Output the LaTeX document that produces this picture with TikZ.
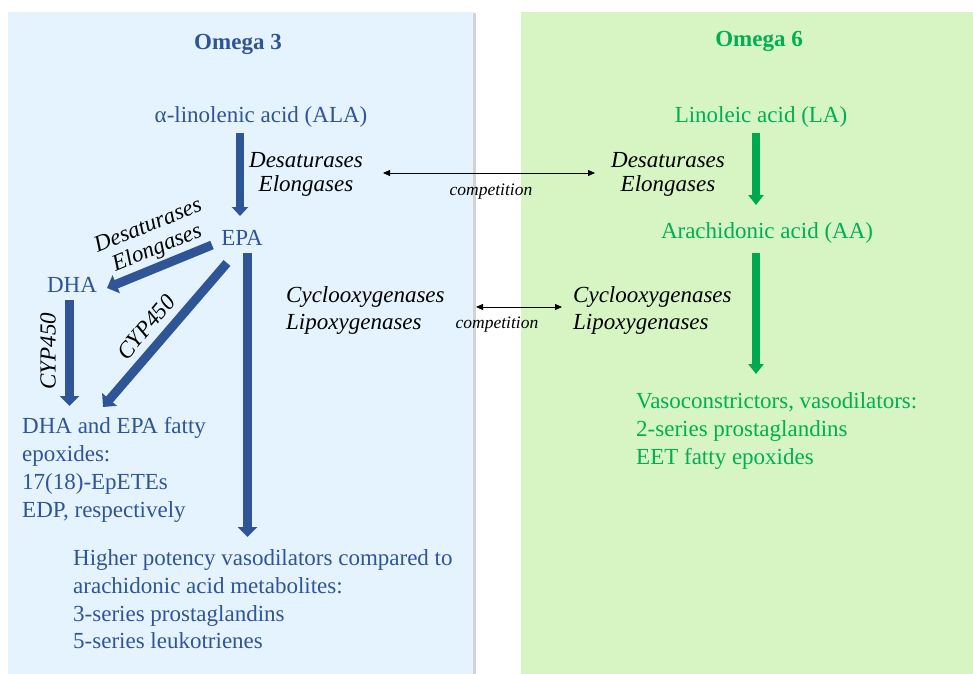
\documentclass[tikz,border=0pt]{standalone}
\usepackage{fontspec}
\setmainfont{Liberation Serif}
\usetikzlibrary{arrows.meta,shadows}
\definecolor{oblue}{HTML}{2F5597}
\definecolor{ogreen}{HTML}{00B050}
\definecolor{agreen}{HTML}{00A94F}
\definecolor{pblue}{HTML}{E4F3FD}
\definecolor{pgreen}{HTML}{D6F5C3}
\begin{document}
\begin{tikzpicture}[x=1pt,y=1pt,
  panel/.style={drop shadow={shadow xshift=3pt,shadow yshift=-1pt,opacity=.35}},
  hd/.style={inner sep=0pt,anchor=base,font=\fontsize{23}{28}\selectfont\bfseries},
  bt/.style={inner sep=0pt,anchor=base,text=oblue,font=\fontsize{23}{28}\selectfont},
  gt/.style={inner sep=0pt,anchor=base,text=ogreen,font=\fontsize{23}{28}\selectfont},
  blk/.style={inner sep=0pt,anchor=north west,align=left,font=\fontsize{23}{27.7}\selectfont},
  en/.style={inner sep=0pt,text=black,font=\fontsize{23}{27}\selectfont\itshape},
  enz/.style={en,align=center,font=\fontsize{23}{24}\selectfont\itshape},
  cmp/.style={inner sep=0pt,anchor=base,font=\fontsize{17.5}{20}\selectfont\itshape},
  barrow/.style={draw=oblue,line width=9pt,-{Triangle[width=19pt,length=10pt]}},
  bthin/.style={draw=oblue,line width=7.5pt,-{Triangle[width=16pt,length=9pt]}},
  garrow/.style={draw=agreen,line width=8pt,-{Triangle[width=15pt,length=10pt]}},
  carrow/.style={draw=black,line width=0.8pt,{Triangle[width=6pt,length=7pt]}-{Triangle[width=6pt,length=7pt]}}
]
\useasboundingbox (0,0) rectangle (973,-673);
% panels
\path[fill=pblue,panel] (8,-12) rectangle (473,-700);
\path[fill=pgreen,panel] (521,-12) rectangle (1000,-700);

% headings
\node[hd,text=oblue] (om3) at (238,-49) {Omega 3};
\node[hd,text=ogreen] (om6) at (759,-46) {Omega 6};

% omega 3 texts
\node[bt] (ala) at (261,-122) {α-linolenic acid (ALA)};
\node[bt] (epa) at (242,-245) {EPA};
\node[bt] (dha) at (72,-292) {DHA};
\node[blk,text=oblue] (epox) at (22,-417.5) {DHA and EPA fatty\\epoxides:\\17(18)-EpETEs\\EDP, respectively};
\node[blk,text=oblue] (vdil) at (73,-549.5) {Higher potency vasodilators compared to\\arachidonic acid metabolites:\\3-series prostaglandins\\5-series leukotrienes};

% omega 6 texts
\node[gt] (la) at (761,-122) {Linoleic acid (LA)};
\node[gt] (aa) at (767,-238) {Arachidonic acid (AA)};
\node[blk,text=ogreen] (vcon) at (636,-392.5) {Vasoconstrictors, vasodilators:\\2-series prostaglandins\\EET fatty epoxides};

% enzyme labels
\node[enz,anchor=north] (desL) at (306,-152) {Desaturases\\Elongases};
\node[enz,anchor=north] (desR) at (668,-152) {Desaturases\\Elongases};
\node[en,align=left,anchor=north west] (coxL) at (286,-286.5) {Cyclooxygenases\\Lipoxygenases};
\node[en,align=left,anchor=north west] (coxR) at (573,-286.5) {Cyclooxygenases\\Lipoxygenases};
\node[enz,rotate=22] (desD) at (153,-238) {Desaturases\\Elongases};
\node[en,rotate=90] (cyp1) at (48,-351) {CYP450};
\node[en,rotate=50] (cyp2) at (146,-327) {CYP450};

% competition
\node[cmp] (comp1) at (491,-195) {competition};
\node[cmp] (comp2) at (497,-328) {competition};
\coordinate (c1a) at (383,-173);
\coordinate (c1b) at (595,-173);
\coordinate (c2a) at (476,-307);
\coordinate (c2b) at (562,-307);
\draw[carrow] (c1a) -- (c1b);
\draw[carrow] (c2a) -- (c2b);

% arrow end points
\coordinate (alaS) at (240,-133);
\coordinate (epaN) at (240,-216);
\coordinate (epaW) at (212,-245);
\coordinate (dhaE) at (107,-288);
\coordinate (epaSW) at (227,-263);
\coordinate (epoxNE) at (103,-407);
\coordinate (dhaS) at (69.5,-300);
\coordinate (epoxN) at (69.5,-406);
\coordinate (epaS) at (247.5,-253);
\coordinate (vdilN) at (247.5,-537);
\coordinate (laS) at (756,-133);
\coordinate (aaN) at (756,-205);
\coordinate (aaS) at (756,-253);
\coordinate (vconN) at (756,-374);

\draw[bthin] (alaS) -- (epaN);
\draw[barrow] (epaW) -- (dhaE);
\draw[barrow] (epaSW) -- (epoxNE);
\draw[barrow] (dhaS) -- (epoxN);
\draw[barrow] (epaS) -- (vdilN);
\draw[garrow] (laS) -- (aaN);
\draw[garrow] (aaS) -- (vconN);
\end{tikzpicture}
\end{document}
